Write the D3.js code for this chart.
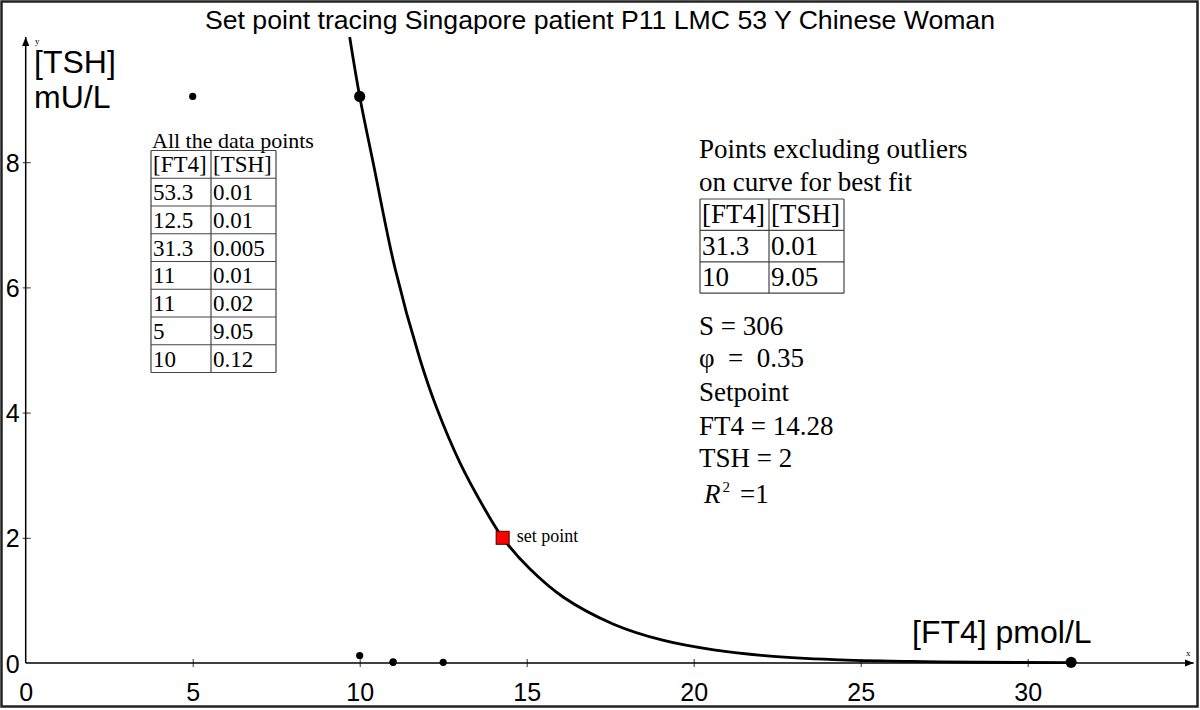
<!DOCTYPE html>
<html>
<head>
<meta charset="utf-8">
<script src="https://cdn.jsdelivr.net/npm/d3@7"></script>
<style>
  html, body { margin: 0; padding: 0; background: #fff; }
  svg { display: block; }
  .sans { font-family: Arial, "Liberation Sans", sans-serif; }
  .serif { font-family: "Times New Roman", "Liberation Serif", serif; }
</style>
</head>
<body>
<svg id="chart" width="1200" height="710"></svg>
<script>
// ---------- data ----------
const titleText = "Set point tracing Singapore patient P11 LMC 53 Y Chinese Woman";
// all measured data points (table on the left)
const allFT4 = [53.3, 12.5, 31.3, 11, 11, 5, 10];
const allTSH = [0.01, 0.01, 0.005, 0.01, 0.02, 9.05, 0.12];
// points used for the fit (table on the right)
const fitFT4 = [31.3, 10];
const fitTSH = [0.01, 9.05];
// fitted curve
const curveFT4 = [9.7, 10, 10.4, 11.06, 11.8, 12.3, 13.0, 13.7, 14.28, 15.1, 16.1, 17.6, 19.1, 20.6, 22.2, 24.2, 26.5, 28.5, 31.3];
const curveTSH = [10.0, 9.05, 8.0, 6.3, 4.86, 4.08, 3.2, 2.5, 2.0, 1.5, 1.05, 0.62, 0.36, 0.21, 0.115, 0.055, 0.025, 0.012, 0.005];
// set point
const setFT4 = [14.28];
const setTSH = [2];
// stats
const statLines = ["S = 306", "\u03C6  =  0.35", "Setpoint", "FT4 = 14.28", "TSH = 2"];
// ticks
const xTicks = [0, 5, 10, 15, 20, 25, 30];
const yTicks = [0, 2, 4, 6, 8];

// ---------- layout ----------
const svg = d3.select("#chart");
const x = d3.scaleLinear().domain([0, 35]).range([25.7, 1194.7]);
const y = d3.scaleLinear().domain([0, 10]).range([663, 37]);

// outer frame
svg.append("rect").attr("x", 1.5).attr("y", 1.5).attr("width", 1196).attr("height", 705)
  .attr("fill", "none").attr("stroke", "#222").attr("stroke-width", 2.5);

// title
svg.append("text").attr("class", "sans").attr("x", 205).attr("y", 29)
  .attr("font-size", 25).attr("textLength", 790).attr("lengthAdjust", "spacingAndGlyphs")
  .attr("fill", "#000").text(titleText);

// arrow marker
const defs = svg.append("defs");
defs.append("marker").attr("id", "arr").attr("viewBox", "0 0 10 10")
  .attr("refX", 10).attr("refY", 5).attr("markerWidth", 9).attr("markerHeight", 9)
  .attr("markerUnits", "userSpaceOnUse").attr("orient", "auto")
  .append("path").attr("d", "M0,1 L10,5 L0,9 Z").attr("fill", "#000");

// x axis
const xAxis = svg.append("g").attr("transform", `translate(0,${y(0)})`)
  .call(d3.axisBottom(x).tickValues(xTicks).tickSize(4).tickSizeOuter(0).tickFormat(d3.format("d")));
xAxis.select(".domain").remove();
xAxis.selectAll(".tick line").attr("y1", -4).attr("y2", 4).attr("stroke", "#333");
xAxis.selectAll(".tick text").attr("class", "sans").attr("font-size", 25).attr("y", 20).attr("dy", "0.71em").attr("fill", "#000");
xAxis.selectAll(".tick").filter(d => d === 0).select("line").remove();
svg.append("line").attr("x1", x(0)).attr("x2", x(35) - 1).attr("y1", y(0)).attr("y2", y(0))
  .attr("stroke", "#000").attr("stroke-width", 1.5).attr("marker-end", "url(#arr)");

// y axis
const yAxis = svg.append("g").attr("transform", `translate(${x(0)},0)`)
  .call(d3.axisLeft(y).tickValues(yTicks).tickSize(4).tickSizeOuter(0).tickFormat(d3.format("d")));
yAxis.select(".domain").remove();
yAxis.selectAll(".tick line").attr("x1", -3).attr("x2", 5).attr("stroke", "#333");
yAxis.selectAll(".tick").filter(d => d === 0).select("line").remove();
yAxis.selectAll(".tick text").attr("class", "sans").attr("font-size", 25).attr("x", -6).attr("dy", "0.36em").attr("fill", "#000");
svg.append("line").attr("x1", x(0)).attr("x2", x(0)).attr("y1", y(0)).attr("y2", y(10))
  .attr("stroke", "#000").attr("stroke-width", 1.5).attr("marker-end", "url(#arr)");

// tiny axis letters
svg.append("text").attr("class", "serif").attr("x", 35).attr("y", 44).attr("font-size", 9).text("y");
svg.append("text").attr("class", "serif").attr("x", 1186).attr("y", 656).attr("font-size", 9).text("x");

// axis titles
svg.append("text").attr("class", "sans").attr("x", 34).attr("y", 73).attr("font-size", 32).text("[TSH]");
svg.append("text").attr("class", "sans").attr("x", 34).attr("y", 108).attr("font-size", 32).text("mU/L");
svg.append("text").attr("class", "sans").attr("x", 912).attr("y", 643).attr("font-size", 32).text("[FT4] pmol/L");

// curve
const curvePts = curveFT4.map((v, i) => [v, curveTSH[i]]);
svg.append("path").datum(curvePts)
  .attr("d", d3.line().x(d => x(d[0])).y(d => y(d[1])).curve(d3.curveCatmullRom.alpha(0.5)))
  .attr("fill", "none").attr("stroke", "#000").attr("stroke-width", 2.8);

// all data points (small)
const allPts = allFT4.map((v, i) => [v, allTSH[i]]).filter(d => d[0] <= 35 && d[1] <= 10);
svg.append("g").selectAll("circle").data(allPts).join("circle")
  .attr("cx", d => x(d[0])).attr("cy", d => y(d[1])).attr("r", 3.6).attr("fill", "#000");

// fit points (large)
const fitPts = fitFT4.map((v, i) => [v, fitTSH[i]]);
svg.append("g").selectAll("circle").data(fitPts).join("circle")
  .attr("cx", d => x(d[0])).attr("cy", d => y(d[1])).attr("r", 5.6).attr("fill", "#000");

// set point
const sp = setFT4.map((v, i) => [v, setTSH[i]]);
svg.append("g").selectAll("rect").data(sp).join("rect")
  .attr("x", d => x(d[0]) - 6.5).attr("y", d => y(d[1]) - 6.5).attr("width", 13).attr("height", 13)
  .attr("fill", "#ff0000").attr("stroke", "#400").attr("stroke-width", 1);
svg.append("text").attr("class", "serif").attr("x", x(setFT4[0]) + 14).attr("y", y(setTSH[0]) + 4)
  .attr("font-size", 18).text("set point");

// ---------- tables ----------
function drawTable(cfg) {
  const g = svg.append("g").attr("class", "serif");
  const nRows = cfg.colA.length + 1;
  const rowsA = [cfg.headA].concat(cfg.colA.map(String));
  const rowsB = [cfg.headB].concat(cfg.colB.map(String));
  const ys = d3.range(nRows + 1).map(i => cfg.top + i * cfg.rowH);
  g.selectAll("line.h").data(ys).join("line")
    .attr("x1", cfg.left).attr("x2", cfg.right).attr("y1", d => d).attr("y2", d => d)
    .attr("stroke", "#444").attr("stroke-width", 1.2);
  g.selectAll("line.v").data([cfg.left, cfg.mid, cfg.right]).join("line").attr("class", "v")
    .attr("x1", d => d).attr("x2", d => d).attr("y1", cfg.top).attr("y2", ys[nRows])
    .attr("stroke", "#444").attr("stroke-width", 1.2);
  g.selectAll("text.a").data(rowsA).join("text").attr("class", "a")
    .attr("x", cfg.left + 2).attr("y", (d, i) => ys[i + 1] - cfg.base)
    .attr("font-size", cfg.fs).text(d => d);
  g.selectAll("text.b").data(rowsB).join("text").attr("class", "b")
    .attr("x", cfg.mid + 2).attr("y", (d, i) => ys[i + 1] - cfg.base)
    .attr("font-size", cfg.fs).text(d => d);
}

svg.append("text").attr("class", "serif").attr("x", 152).attr("y", 148).attr("font-size", 22).text("All the data points");
drawTable({ left: 151, mid: 211, right: 276, top: 150.5, rowH: 27.75, fs: 23, base: 6,
  headA: "[FT4]", headB: "[TSH]", colA: allFT4, colB: ["0.01", "0.01", "0.005", "0.01", "0.02", "9.05", "0.12"] });

svg.append("text").attr("class", "serif").attr("x", 699).attr("y", 158).attr("font-size", 27).text("Points excluding outliers");
svg.append("text").attr("class", "serif").attr("x", 699).attr("y", 191).attr("font-size", 27).text("on curve for best fit");
drawTable({ left: 700, mid: 769, right: 844, top: 199, rowH: 31.4, fs: 27, base: 7,
  headA: "[FT4]", headB: "[TSH]", colA: fitFT4, colB: ["0.01", "9.05"] });

// stats
const statY = [335, 367, 401, 435, 467];
svg.append("g").attr("class", "serif").selectAll("text").data(statLines).join("text")
  .attr("x", 699).attr("y", (d, i) => statY[i]).attr("font-size", 27)
  .style("white-space", "pre").text(d => d);
const r2 = svg.append("text").attr("class", "serif").attr("x", 704).attr("y", 503).attr("font-size", 27);
r2.append("tspan").attr("font-style", "italic").text("R");
r2.append("tspan").attr("font-size", 15).attr("dy", -11).attr("dx", 2).text("2");
r2.append("tspan").attr("dy", 11).attr("dx", 10).text("=1");
</script>
</body>
</html>
